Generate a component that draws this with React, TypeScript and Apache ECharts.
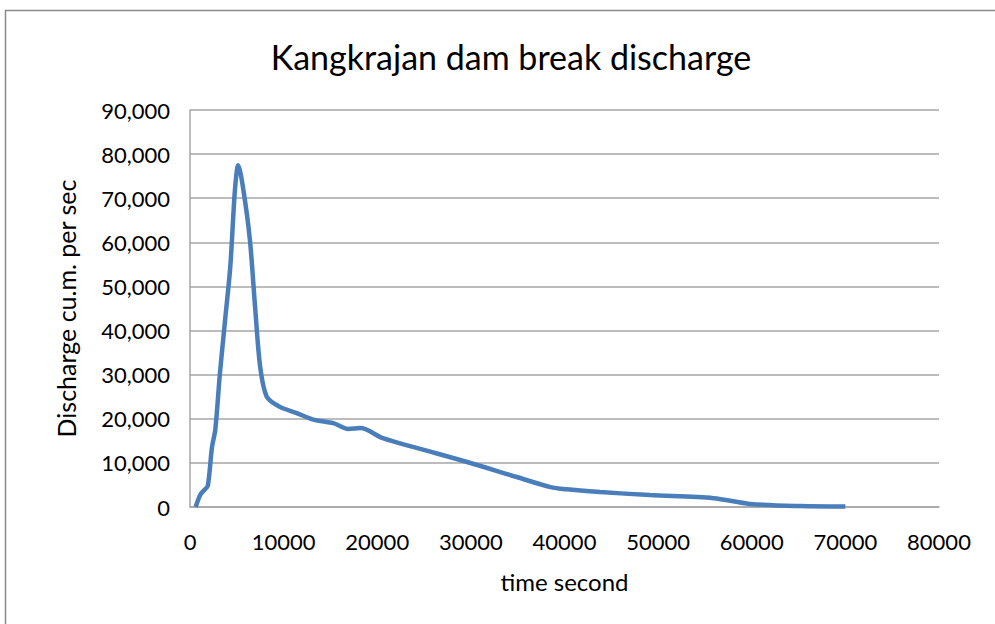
import React, { useEffect, useRef } from "react";
import * as echarts from "echarts";

const timeSeconds = [600, 1100, 1500, 1900, 2350, 2700, 3200, 3750, 4300, 4800, 5150, 5700, 6400, 6950, 7500, 8200, 9600, 11400, 13200, 15300, 16900, 18200, 20600, 24200, 29600, 34900, 38500, 40200, 43800, 49100, 55900, 59800, 65200, 70000];
const discharge = [0, 2800, 3800, 4800, 13600, 17500, 30400, 42400, 54400, 71900, 77500, 71900, 60500, 45400, 31700, 25000, 22700, 21300, 19800, 19000, 17700, 17900, 15600, 13400, 10200, 6800, 4500, 4000, 3400, 2700, 2000, 700, 200, 100];
const titleText = "Kangkrajan dam break discharge";
const xAxisName = "time second";
const yAxisName = "Discharge cu.m. per sec";

const FONT = "Lato, 'Open Sans', sans-serif";

export default function App() {
  const ref = useRef<HTMLDivElement>(null);
  useEffect(() => {
    if (!ref.current) return;
    const chart = echarts.init(ref.current, undefined, { renderer: "svg" });
    chart.setOption({
      animation: false,
      backgroundColor: "#ffffff",
      title: {
        text: titleText,
        left: 506,
        textAlign: "center",
        top: 34,
        textStyle: { fontFamily: FONT, fontSize: 34, fontWeight: "normal", color: "#000" },
      },
      graphic: [
        {
          type: "rect",
          shape: { x: 5.5, y: 10.5, width: 1100, height: 800 },
          style: { fill: "none", stroke: "#8a8a8a", lineWidth: 1.5 },
          silent: true,
        },
      ],
      grid: { left: 190, right: 56, top: 110, bottom: 117 },
      xAxis: {
        type: "value",
        min: 0,
        max: 80000,
        interval: 10000,
        name: xAxisName,
        nameLocation: "middle",
        nameGap: 62,
        nameTextStyle: { fontFamily: FONT, fontSize: 24, color: "#000" },
        axisLine: { show: true, lineStyle: { color: "#a6a6a6", width: 1.5 } },
        axisTick: { show: false },
        splitLine: { show: false },
        axisLabel: {
          fontFamily: FONT,
          fontSize: 22,
          color: "#000",
          margin: 23,
          formatter: (v: number) => String(v),
        },
      },
      yAxis: {
        type: "value",
        min: 0,
        max: 90000,
        interval: 10000,
        name: yAxisName,
        nameLocation: "middle",
        nameGap: 112,
        nameRotate: 90,
        nameTextStyle: { fontFamily: FONT, fontSize: 25, color: "#000" },
        axisLine: { show: true, lineStyle: { color: "#a6a6a6", width: 1.5 } },
        axisTick: { show: false },
        splitLine: { show: true, lineStyle: { color: "#a6a6a6", width: 1.5 } },
        axisLabel: {
          fontFamily: FONT,
          fontSize: 22,
          color: "#000",
          margin: 20,
          formatter: (v: number) => v.toLocaleString("en-US"),
        },
      },
      series: [
        {
          type: "line",
          data: timeSeconds.map((t, i) => [t, discharge[i]]),
          smooth: 0.3,
          showSymbol: false,
          lineStyle: { color: "#4a7ebb", width: 4.5 },
        },
      ],
    });
    return () => chart.dispose();
  }, []);
  return (
    <div
      ref={ref}
      style={{ position: "fixed", left: 0, top: 0, width: 995, height: 624 }}
    />
  );
}
